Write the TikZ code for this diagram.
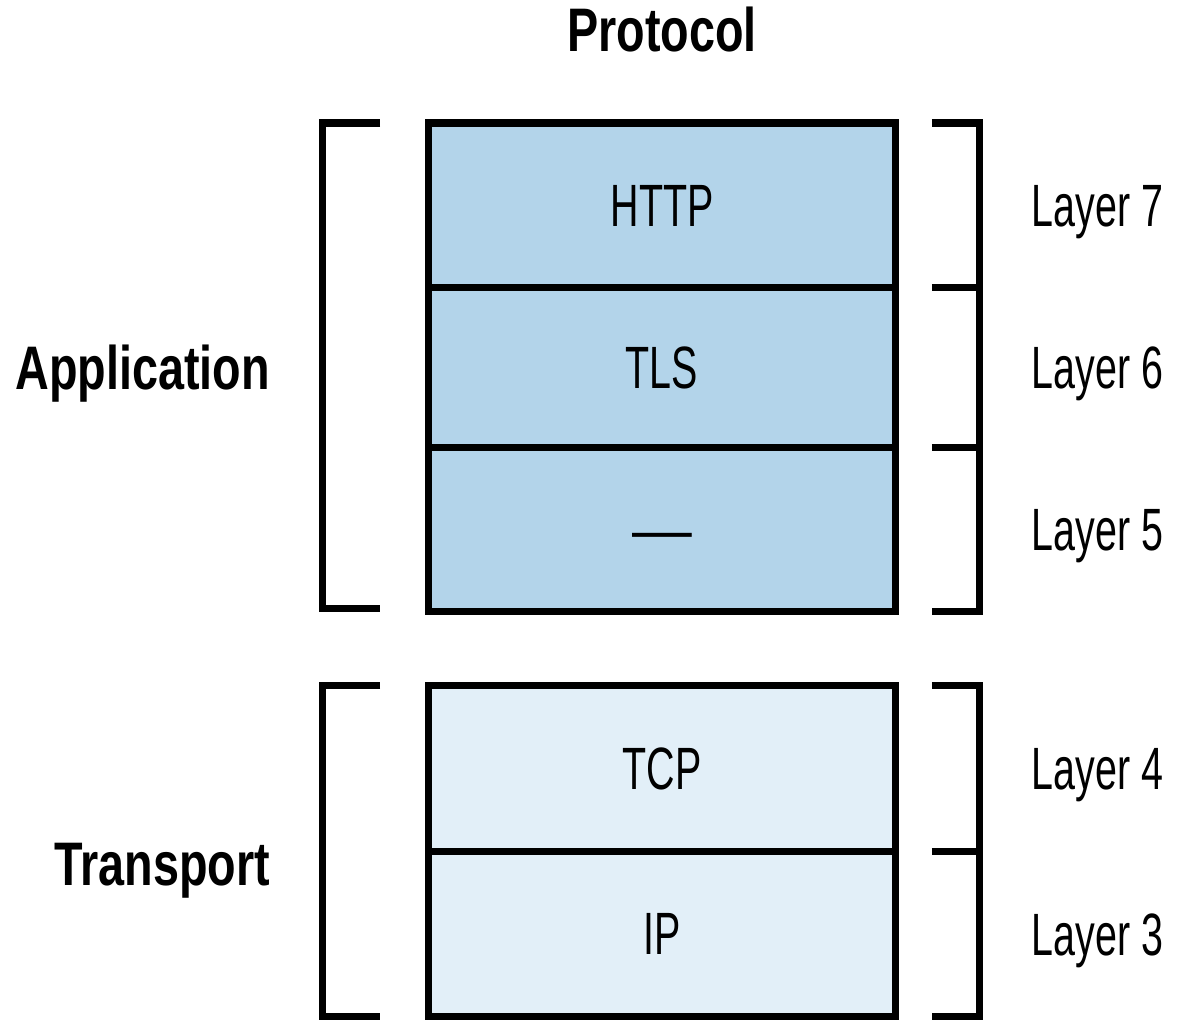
\documentclass[tikz,border=0pt]{standalone}
\usepackage{fontspec}
\setmainfont{Liberation Sans}[FakeStretch=0.66]
\newfontfamily\headfont{Liberation Sans}[FakeStretch=0.76]
\newfontfamily\dashfont{Liberation Sans}
\usetikzlibrary{positioning,calc}
\definecolor{appblue}{HTML}{B3D4EA}
\definecolor{tptblue}{HTML}{E2EFF8}
\begin{document}
\begin{tikzpicture}[x=0.02cm, y=-0.02cm, node distance=0pt,
  every node/.style={inner sep=0pt, outer sep=0pt},
  layer/.style={draw, line width=4pt, minimum width=9.36cm, font=\fontsize{34}{40}\selectfont},
  app/.style={layer, fill=appblue},
  tpt/.style={layer, fill=tptblue},
  brk/.style={line width=4pt},
  lbl/.style={anchor=base west, font=\fontsize{34}{40}\selectfont},
  head/.style={font=\headfont\bfseries\fontsize{35}{42}\selectfont}]
\useasboundingbox (0,0) rectangle (1180,1020);
% protocol stack
\node[app, minimum height=3.30cm] (http) at (662,205.5) {HTTP};
\node[app, minimum height=3.20cm, below=of http] (tls) {TLS};
\node[app, minimum height=3.28cm, below=of tls] (sess) {\raisebox{-0.42cm}[0pt][0pt]{\dashfont\fontsize{34}{40}\selectfont —}};
\node[tpt, minimum height=3.32cm, below=1.48cm of sess] (tcp) {TCP};
\node[tpt, minimum height=3.30cm, below=of tcp] (ip) {IP};
% headings
\node[head, anchor=base] (proto) at (662,52) {Protocol};
\node[head, anchor=base east] (appl) at (270,390) {Application};
\node[head, anchor=base east] (trans) at (270,885) {Transport};
% left brackets
\draw[brk] ($(http.north west)+(-48,0)$) -- ++(-58,0) |- ($(sess.south west)+(-48,-3)$);
\draw[brk] ($(tcp.north west)+(-48,0)$) -- ++(-58,0) |- ($(ip.south west)+(-48,0)$);
% right brackets
\draw[brk] ($(http.north east)+(36,0)$) -- ++(48,0) |- ($(sess.south east)+(36,0)$);
\draw[brk] ($(tls.north east)+(36,0)$) -- ++(48,0);
\draw[brk] ($(sess.north east)+(36,0)$) -- ++(48,0);
\draw[brk] ($(tcp.north east)+(36,0)$) -- ++(48,0) |- ($(ip.south east)+(36,0)$);
\draw[brk] ($(ip.north east)+(36,0)$) -- ++(48,0);
% layer numbers
\node[lbl] (l7) at ($(http.east)+(136,21)$) {Layer 7};
\node[lbl] (l6) at ($(tls.east)+(136,21)$) {Layer 6};
\node[lbl] (l5) at ($(sess.east)+(136,21)$) {Layer 5};
\node[lbl] (l4) at ($(tcp.east)+(136,21)$) {Layer 4};
\node[lbl] (l3) at ($(ip.east)+(136,21)$) {Layer 3};
\end{tikzpicture}
\end{document}
